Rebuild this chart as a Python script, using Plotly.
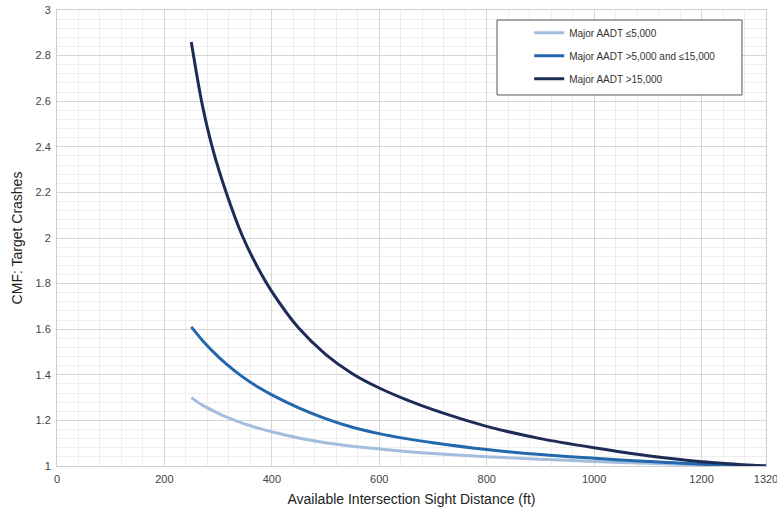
import plotly.graph_objects as go

# Available intersection sight distance (ft)
isd = [250, 270, 290, 315, 345, 375, 400, 450, 500, 550, 600, 650, 700, 800, 900, 1000, 1100, 1200, 1320]

cmf_low = [1.30, 1.268, 1.243, 1.215, 1.188, 1.166, 1.150, 1.123, 1.102, 1.087, 1.075, 1.064, 1.055, 1.041, 1.030, 1.020, 1.012, 1.005, 1.0]
cmf_mid = [1.61, 1.553, 1.503, 1.448, 1.392, 1.345, 1.312, 1.255, 1.208, 1.170, 1.142, 1.120, 1.102, 1.072, 1.050, 1.034, 1.020, 1.008, 1.0]
cmf_high = [2.86, 2.59, 2.39, 2.20, 2.01, 1.865, 1.765, 1.605, 1.49, 1.405, 1.342, 1.291, 1.247, 1.174, 1.12, 1.08, 1.045, 1.019, 1.0]

series_names = ["Major AADT \u22645,000", "Major AADT >5,000 and \u226415,000", "Major AADT >15,000"]
series_colors = ["#a3bddd", "#2368ad", "#1d2b57"]

x_ticks = [0, 200, 400, 600, 800, 1000, 1200, 1320]
y_ticks = [1, 1.2, 1.4, 1.6, 1.8, 2, 2.2, 2.4, 2.6, 2.8, 3]
y_ticktext = ["1", "1.2", "1.4", "1.6", "1.8", "2", "2.2", "2.4", "2.6", "2.8", "3"]

fig = go.Figure()
for i, (name, vals, col) in enumerate(zip(series_names, [cmf_low, cmf_mid, cmf_high], series_colors)):
    fig.add_trace(go.Scatter(
        x=isd, y=vals, mode="lines", name=name,
        line=dict(color=col, width=3, shape="spline", smoothing=0.8),
        legendgroup=f"g{i}",
    ))

font_family = "Liberation Sans, Arial, sans-serif"

# legend frame (paper coordinates)
fig.add_shape(type="rect", xref="paper", yref="paper",
              x0=0.6206, x1=0.9661, y0=0.8136, y1=0.978,
              line=dict(color="#555555", width=1), fillcolor="white", layer="above")

fig.update_layout(
    width=777, height=511,
    margin=dict(l=57, r=11, t=10, b=45, autoexpand=False),
    paper_bgcolor="white", plot_bgcolor="white",
    font=dict(family=font_family, color="#333333", size=11),
    showlegend=True,
    legend=dict(
        x=0.666, y=0.982, xanchor="left", yanchor="top",
        bgcolor="rgba(0,0,0,0)", borderwidth=0,
        font=dict(size=10, color="#333333", family=font_family),
        traceorder="grouped", tracegroupgap=4,
        itemwidth=30,
    ),
    xaxis=dict(
        range=[0, 1320], tickmode="array", tickvals=x_ticks,
        ticktext=[str(v) for v in x_ticks], automargin=False,
        showgrid=True, gridcolor="#d6d6d6", gridwidth=1,
        zeroline=False, showline=True, linecolor="#cfcfcf", mirror=True,
        ticks="", tickfont=dict(size=11, color="#444444"),
        ticklabelstandoff=3, ticklabeloverflow="allow",
        title=dict(text="Available Intersection Sight Distance (ft)", font=dict(size=14, color="#222222"), standoff=9),
        minor=dict(tickmode="linear", tick0=0, dtick=40, showgrid=True, gridcolor="#eeeeee", gridwidth=1),
    ),
    yaxis=dict(
        range=[1, 3], tickmode="array", tickvals=y_ticks, ticktext=y_ticktext,
        automargin=False,
        showgrid=True, gridcolor="#d6d6d6", gridwidth=1,
        zeroline=False, showline=True, linecolor="#cfcfcf", mirror=True,
        ticks="", tickfont=dict(size=11, color="#444444"),
        ticklabelstandoff=3, ticklabeloverflow="allow",
        title=dict(text="CMF: Target Crashes", font=dict(size=14, color="#222222"), standoff=9),
        minor=dict(tickmode="linear", tick0=1, dtick=0.04, showgrid=True, gridcolor="#eeeeee", gridwidth=1),
    ),
)

# remove the default page margin so the 777x511 figure fills the window exactly
fig.write_html("out.html",
               config={"displayModeBar": False},
               post_script="document.body.style.margin='0';document.body.style.overflow='hidden';")
